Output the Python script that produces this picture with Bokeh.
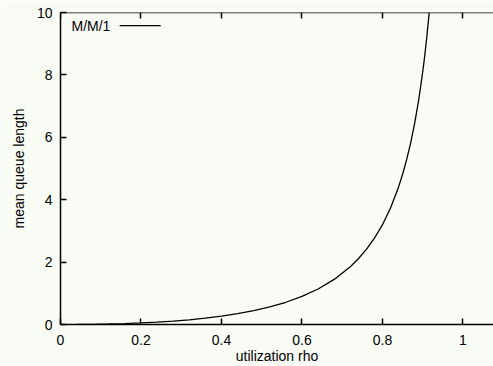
from bokeh.plotting import figure
from bokeh.models import Range1d, LinearAxis, FixedTicker, Label, Arrow
from bokeh.embed import file_html
from bokeh.resources import INLINE

# ---- data ----
rho = [0.04, 0.08, 0.12, 0.16, 0.20, 0.24, 0.28, 0.32, 0.36, 0.40, 0.44, 0.48,
       0.52, 0.56, 0.60, 0.64, 0.68, 0.72, 0.74, 0.76, 0.78, 0.80, 0.82, 0.84,
       0.85, 0.86, 0.87, 0.88, 0.89, 0.90, 0.905, 0.91, 0.9161]
mean_queue_length = [0.0017, 0.007, 0.016, 0.030, 0.05, 0.076, 0.109, 0.151,
                     0.203, 0.267, 0.346, 0.443, 0.563, 0.713, 0.90, 1.138,
                     1.445, 1.851, 2.106, 2.407, 2.765, 3.20, 3.736, 4.41,
                     4.817, 5.283, 5.822, 6.453, 7.201, 8.10, 8.621, 9.201, 10.0]
series_name = "M/M/1"
x_ticks = [0, 0.2, 0.4, 0.6, 0.8, 1.0]
x_tick_labels = ["0", "0.2", "0.4", "0.6", "0.8", "1"]
y_ticks = [0, 2, 4, 6, 8, 10]
y_tick_labels = ["0", "2", "4", "6", "8", "10"]
x_label = "utilization rho"
y_label = "mean queue length"

FONT = "Liberation Sans"
BG = "#f8fcf5"

p = figure(width=493, height=366, output_backend="svg", toolbar_location=None,
           x_range=Range1d(0, 1.0758), y_range=Range1d(0, 10),
           x_axis_location=None, y_axis_location=None,
           min_border_left=60, min_border_right=0, min_border_top=12,
           min_border_bottom=42)
p.background_fill_color = BG
p.border_fill_color = BG
p.outline_line_color = None
p.xgrid.visible = False
p.ygrid.visible = False

def style_axis(ax, ticks, labels):
    ax.ticker = FixedTicker(ticks=ticks)
    ax.major_label_overrides = {t: l for t, l in zip(ticks, labels)}
    ax.axis_line_color = "black"
    ax.axis_line_width = 1.5
    ax.major_tick_line_color = "black"
    ax.major_tick_line_width = 1.5
    ax.major_tick_in = 6
    ax.major_tick_out = 0
    ax.minor_tick_line_color = None
    ax.major_label_text_font = FONT
    ax.major_label_text_font_size = "14px"
    ax.major_label_text_color = "black"
    ax.axis_label_text_font = FONT
    ax.axis_label_text_font_size = "14px"
    ax.axis_label_text_font_style = "normal"
    ax.axis_label_text_color = "black"

xa = LinearAxis(axis_label=x_label)
style_axis(xa, x_ticks, x_tick_labels)
xa.major_label_standoff = 10
xa.axis_label_standoff = 0
p.add_layout(xa, "below")

ya = LinearAxis(axis_label=y_label)
style_axis(ya, y_ticks, y_tick_labels)
ya.major_label_standoff = 8
ya.axis_label_standoff = 7
p.add_layout(ya, "left")

# mirrored top border with inward ticks, no labels
ta = LinearAxis(fixed_location=10)
style_axis(ta, x_ticks, x_tick_labels)
ta.major_label_text_color = None
p.add_layout(ta, "above")

p.line(rho, mean_queue_length, line_color="black", line_width=1.3)

# legend (gnuplot style: text then sample line)
p.add_layout(Label(x=0.124, y=9.58, text=series_name, text_align="right",
                   text_baseline="middle", text_font=FONT,
                   text_font_size="14px", text_color="black"))
p.add_layout(Arrow(x_start=0.147, y_start=9.58, x_end=0.249, y_end=9.58,
                   end=None, start=None, line_color="black", line_width=1.3))

open("out.html", "w").write(file_html(p, INLINE))
